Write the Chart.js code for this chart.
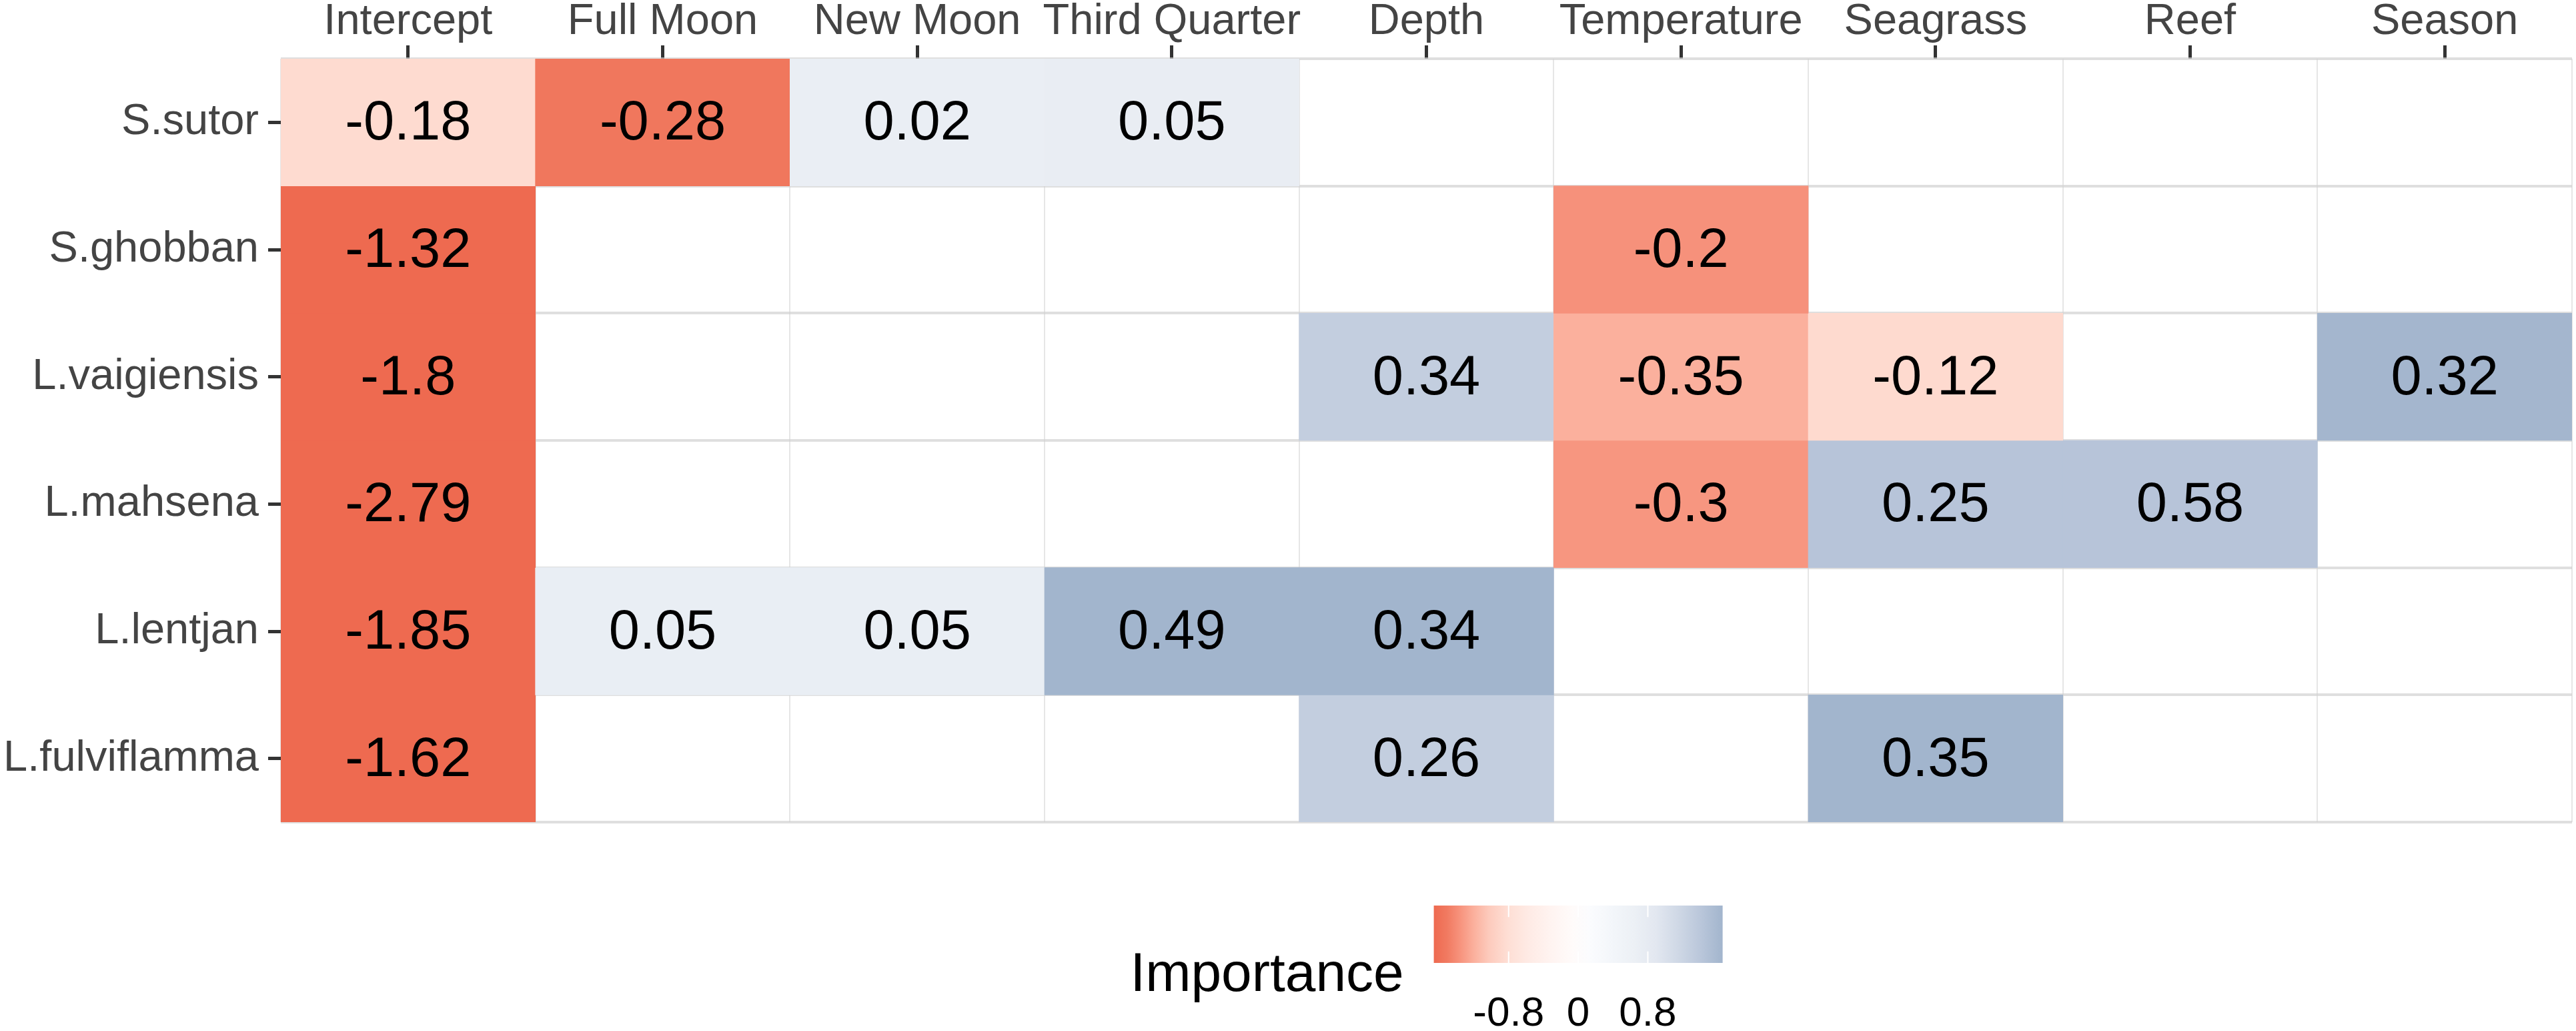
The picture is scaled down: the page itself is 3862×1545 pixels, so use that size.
<!DOCTYPE html>
<html>
<head>
<meta charset="utf-8">
<title>Importance heatmap</title>
<script src="https://cdn.jsdelivr.net/npm/chart.js@4.4.1/dist/chart.umd.min.js"></script>
<style>
  html, body { margin: 0; padding: 0; background: #fff; }
  canvas { display: block; }
</style>
</head>
<body>
<canvas id="heatmap" width="3862" height="1545"></canvas>
<script>
// Columns (model terms) and rows (species)
const predictors = ['Intercept', 'Full Moon', 'New Moon', 'Third Quarter', 'Depth', 'Temperature', 'Seagrass', 'Reef', 'Season'];
const species = ['S.sutor', 'S.ghobban', 'L.vaigiensis', 'L.mahsena', 'L.lentjan', 'L.fulviflamma'];

// Coefficient printed in each tile (null = term not in the model)
const sutorCoef       = [-0.18, -0.28, 0.02, 0.05, null, null, null, null, null];
const ghobbanCoef     = [-1.32, null, null, null, null, -0.2, null, null, null];
const vaigiensisCoef  = [-1.8, null, null, null, 0.34, -0.35, -0.12, null, 0.32];
const mahsenaCoef     = [-2.79, null, null, null, null, -0.3, 0.25, 0.58, null];
const lentjanCoef     = [-1.85, 0.05, 0.05, 0.49, 0.34, null, null, null, null];
const fulviflammaCoef = [-1.62, null, null, null, 0.26, null, 0.35, null, null];

// Importance (tile fill), estimated from the colour bar
const sutorImp       = [-0.85, -1.54, 0.70, 0.73, null, null, null, null, null];
const ghobbanImp     = [-1.66, null, null, null, null, -1.37, null, null, null];
const vaigiensisImp  = [-1.66, null, null, null, 1.29, -1.20, -0.86, null, 1.64];
const mahsenaImp     = [-1.66, null, null, null, null, -1.34, 1.44, 1.44, null];
const lentjanImp     = [-1.66, 0.71, 0.71, 1.66, 1.66, null, null, null, null];
const fulviflammaImp = [-1.66, null, null, null, 1.29, null, 1.66, null, null];

// Colour bar limits and breaks
const impLimits = [-1.66, 1.66];
const legendTicks = [-0.8, 0, 0.8];

const coefRows = [sutorCoef, ghobbanCoef, vaigiensisCoef, mahsenaCoef, lentjanCoef, fulviflammaCoef];
const impRows = [sutorImp, ghobbanImp, vaigiensisImp, mahsenaImp, lentjanImp, fulviflammaImp];

const FONT = "'Liberation Sans', Arial, sans-serif";
Chart.defaults.font.family = FONT;

// coral2 -> white -> lightsteelblue3 ramp, sampled from the legend bar
const ramp = [
    [0.000, [238, 106, 80]],
    [0.046, [241, 122, 97]],
    [0.093, [247, 148, 126]],
    [0.139, [251, 176, 157]],
    [0.190, [253, 202, 188]],
    [0.255, [254, 222, 212]],
    [0.324, [254, 234, 228]],
    [0.400, [255, 243, 240]],
    [0.480, [255, 251, 250]],
    [0.540, [251, 252, 254]],
    [0.618, [243, 246, 250]],
    [0.694, [236, 240, 245]],
    [0.770, [226, 231, 240]],
    [0.850, [206, 215, 229]],
    [0.926, [185, 198, 218]],
    [1.000, [162, 181, 205]]
];

function rampAt(p) {
    p = Math.max(0, Math.min(1, p));
    for (let i = 1; i < ramp.length; i++) {
        if (p <= ramp[i][0]) {
            const [p0, c0] = ramp[i - 1];
            const [p1, c1] = ramp[i];
            const t = (p - p0) / (p1 - p0);
            const c = c0.map((v, k) => Math.round(v + (c1[k] - v) * t));
            return `rgb(${c[0]}, ${c[1]}, ${c[2]})`;
        }
    }
    const c = ramp[ramp.length - 1][1];
    return `rgb(${c[0]}, ${c[1]}, ${c[2]})`;
}

function fillFor(value) {
    return rampAt((value - impLimits[0]) / (impLimits[1] - impLimits[0]));
}

// Print the coefficient in the middle of each tile
const tileLabels = {
    id: 'tileLabels',
    afterDatasetsDraw(chart) {
        const ctx = chart.ctx;
        ctx.save();
        ctx.font = `83px ${FONT}`;
        ctx.fillStyle = '#000';
        ctx.textAlign = 'center';
        ctx.textBaseline = 'middle';
        chart.data.datasets.forEach((ds, i) => {
            chart.getDatasetMeta(i).data.forEach((bar, j) => {
                const v = ds.coef[j];
                if (v === null) return;
                const { x, y, base } = bar.getProps(['x', 'y', 'base'], true);
                ctx.fillText(String(v), x, (y + base) / 2 + 3);
            });
        });
        ctx.restore();
    }
};

// Colour bar legend under the panel
const colourBar = {
    id: 'colourBar',
    afterDraw(chart) {
        const ctx = chart.ctx;
        const area = chart.chartArea;
        const cx = (area.left + area.right) / 2;
        const barW = 433, barH = 86, gap = 45;

        ctx.save();
        ctx.font = `82px ${FONT}`;
        const titleW = ctx.measureText('Importance').width;
        const start = cx - (titleW + gap + barW) / 2;
        const barLeft = start + titleW + gap;
        const barTop = area.bottom + 125;

        ctx.fillStyle = '#000';
        ctx.textAlign = 'left';
        ctx.textBaseline = 'alphabetic';
        ctx.fillText('Importance', start, area.bottom + 253);

        const grad = ctx.createLinearGradient(barLeft, 0, barLeft + barW, 0);
        ramp.forEach(([p, c]) => grad.addColorStop(p, `rgb(${c[0]}, ${c[1]}, ${c[2]})`));
        ctx.fillStyle = grad;
        ctx.fillRect(barLeft, barTop, barW, barH);

        ctx.strokeStyle = '#fff';
        ctx.lineWidth = 2;
        ctx.font = `62px ${FONT}`;
        ctx.fillStyle = '#000';
        ctx.textAlign = 'center';
        legendTicks.forEach(t => {
            const x = barLeft + (t - impLimits[0]) / (impLimits[1] - impLimits[0]) * barW;
            ctx.beginPath();
            ctx.moveTo(x, barTop);
            ctx.lineTo(x, barTop + barH / 5);
            ctx.moveTo(x, barTop + barH - barH / 5);
            ctx.lineTo(x, barTop + barH);
            ctx.stroke();
            ctx.fillText(String(t), x, area.bottom + 305);
        });
        ctx.restore();
    }
};

const datasets = species.map((name, r) => ({
    label: name,
    data: coefRows[r].map(v => (v === null ? null : [r, r + 1])),
    coef: coefRows[r],
    backgroundColor: (c) => fillFor(impRows[r][c.dataIndex]),
    borderWidth: 0,
    barPercentage: 1,
    categoryPercentage: 1,
    grouped: false
}));

new Chart(document.getElementById('heatmap'), {
    type: 'bar',
    data: { labels: predictors, datasets },
    options: {
        responsive: false,
        animation: false,
        devicePixelRatio: 1,
        layout: { padding: { top: 0, left: 0, right: 6, bottom: 313 } },
        plugins: { legend: { display: false }, tooltip: { enabled: false } },
        scales: {
            x: {
                type: 'category',
                position: 'top',
                offset: true,
                afterFit: (a) => { a.height = 88; },
                grid: { offset: false, drawOnChartArea: false, tickLength: 20, tickColor: '#333', tickWidth: 5 },
                border: { display: false },
                ticks: { font: { size: 65 }, color: '#444', padding: -4, maxRotation: 0, autoSkip: false }
            },
            xg: {
                type: 'category',
                labels: predictors,
                position: 'bottom',
                offset: true,
                z: 1,
                afterFit: (a) => { a.height = 0; },
                grid: { offset: true, color: 'rgba(205, 205, 205, 0.5)', lineWidth: 2, drawTicks: false },
                border: { display: false },
                ticks: { display: false }
            },
            y: {
                type: 'linear',
                min: 0,
                max: 6,
                reverse: true,
                afterFit: (a) => { a.width = 421; },
                afterBuildTicks: (a) => { a.ticks = species.map((s, i) => ({ value: i + 0.5 })); },
                grid: { drawOnChartArea: false, tickLength: 19, tickColor: '#333', tickWidth: 5 },
                border: { display: false },
                ticks: { font: { size: 65 }, color: '#444', padding: 14, callback: (v) => species[Math.floor(v)] }
            },
            yg: {
                type: 'linear',
                min: 0,
                max: 6,
                reverse: true,
                position: 'left',
                z: 1,
                afterFit: (a) => { a.width = 0; },
                grid: { color: 'rgba(210, 210, 210, 0.7)', lineWidth: 4, drawTicks: false },
                border: { display: false },
                ticks: { display: false, stepSize: 1 }
            }
        }
    },
    plugins: [tileLabels, colourBar]
});
</script>
</body>
</html>
